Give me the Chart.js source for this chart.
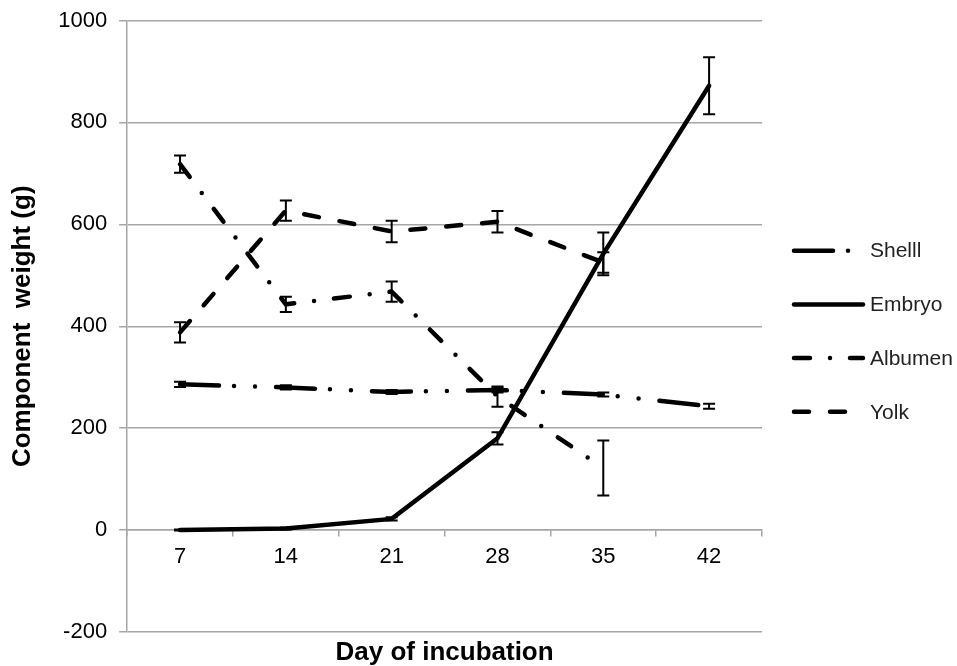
<!DOCTYPE html>
<html>
<head>
<meta charset="utf-8">
<script src="https://cdn.jsdelivr.net/npm/chart.js@4.4.0/dist/chart.umd.min.js"></script>
<style>
    html, body { margin: 0; padding: 0; background: #fff; }
    #wrap { width: 957px; height: 666px; }
</style>
</head>
<body>
<div id="wrap"><canvas id="chart"></canvas></div>
<script>
// values
const days = ['7', '14', '21', '28', '35', '42'];
const yTicks = [-200, 0, 200, 400, 600, 800, 1000];

const shell = [286, 280, 271, 275, 266, 243];
const shellErr = [5, 4, 4, 5, 4, 5];
const embryo = [0, 3, 22, 180, 542, 872];
const embryoErr = [1, 2, 3, 12, 42, 56];
const albumen = [718, 443, 468, 262, 122, null];
const albumenErr = [17, 15, 20, 20, 54, null];
const yolk = [388, 627, 586, 605, 525, null];
const yolkErr = [20, 20, 21, 21, 20, null];

const FONT = "'Liberation Sans', Arial, sans-serif";
const GRID = '#a6a6a6';

const errors = [shellErr, embryoErr, albumenErr, yolkErr];

// draws the +/- bars through the y scale
const errorBars = {
    id: 'errorBars',
    afterDatasetsDraw(chart) {
        const ctx = chart.ctx;
        const y = chart.scales.y;
        chart.data.datasets.forEach((ds, i) => {
            const meta = chart.getDatasetMeta(i);
            errors[i].forEach((e, j) => {
                if (e == null || ds.data[j] == null) return;
                const px = meta.data[j].x;
                const top = y.getPixelForValue(ds.data[j] + e);
                const bot = y.getPixelForValue(ds.data[j] - e);
                ctx.save();
                ctx.strokeStyle = '#000';
                ctx.lineWidth = 2;
                ctx.beginPath();
                ctx.moveTo(px, top); ctx.lineTo(px, bot);
                ctx.moveTo(px - 6, top); ctx.lineTo(px + 6, top);
                ctx.moveTo(px - 6, bot); ctx.lineTo(px + 6, bot);
                ctx.stroke();
                ctx.restore();
            });
        });
    }
};

// legend at the right, line samples use each dataset's dash
const sideLegend = {
    id: 'sideLegend',
    afterDraw(chart) {
        const ctx = chart.ctx;
        const area = chart.chartArea;
        const x0 = 792;
        const len = 73;
        const rowH = 53.7;
        const yMid = (area.top + area.bottom) / 2 + 5;
        chart.data.datasets.forEach((ds, i) => {
            const yy = yMid + (i - 1.5) * rowH;
            ctx.save();
            ctx.strokeStyle = '#000';
            ctx.lineWidth = ds.borderWidth;
            ctx.lineCap = 'round';
            ctx.setLineDash(ds.borderDash || []);
            ctx.beginPath();
            ctx.moveTo(x0 + 2, yy);
            ctx.lineTo(x0 + len - 2, yy);
            ctx.stroke();
            ctx.setLineDash([]);
            ctx.fillStyle = '#222';
            ctx.font = '21px ' + FONT;
            ctx.textBaseline = 'middle';
            ctx.fillText(ds.label, x0 + len + 5, yy + 1);
            ctx.restore();
        });
    }
};

const lineBase = {
    borderColor: '#000',
    backgroundColor: '#000',
    borderWidth: 4.5,
    borderCapStyle: 'round',
    pointRadius: 0,
    tension: 0,
    fill: false,
    spanGaps: false
};

new Chart(document.getElementById('chart').getContext('2d'), {
    type: 'line',
    data: {
        labels: days,
        datasets: [
            Object.assign({}, lineBase, { label: 'Shelll', data: shell, borderDash: [39, 15, 0, 21, 0, 21] }),
            Object.assign({}, lineBase, { label: 'Embryo', data: embryo, borderDash: [] }),
            Object.assign({}, lineBase, { label: 'Albumen', data: albumen, borderDash: [16, 20, 0, 20] }),
            Object.assign({}, lineBase, { label: 'Yolk', data: yolk, borderDash: [15, 21] })
        ]
    },
    options: {
        responsive: true,
        maintainAspectRatio: false,
        animation: false,
        layout: { padding: { left: 7, right: 195, top: 0, bottom: 0 } },
        plugins: {
            legend: { display: false },
            tooltip: { enabled: false }
        },
        scales: {
            x: {
                type: 'category',
                position: 'bottom',
                offset: true,
                grid: { display: false },
                border: { display: false },
                ticks: { display: false },
                title: {
                    display: true,
                    text: 'Day of incubation',
                    color: '#000',
                    font: { family: FONT, size: 26, weight: 'bold', lineHeight: 1.0 },
                    padding: { top: 0, bottom: 0 }
                }
            },
            x2: {
                type: 'category',
                position: { y: 0 },
                offset: true,
                grid: { drawOnChartArea: false, drawTicks: true, tickLength: 6, offset: true, color: GRID, lineWidth: 1.5 },
                border: { color: GRID, width: 1.5 },
                ticks: { color: '#000', padding: 8, font: { family: FONT, size: 22 } },
                afterFit(scale) { scale.height = 0; }
            },
            y: {
                min: yTicks[0],
                max: yTicks[yTicks.length - 1],
                afterBuildTicks(scale) { scale.ticks = yTicks.map(v => ({ value: v })); },
                afterFit(scale) { scale.paddingTop = 20.5; },
                grid: { color: GRID, lineWidth: 1.5, tickLength: 8 },
                border: { color: GRID, width: 1.5 },
                ticks: { color: '#000', padding: 12, font: { family: FONT, size: 22 }, callback: v => String(v) },
                title: {
                    display: true,
                    text: 'Component  weight (g)',
                    color: '#000',
                    font: { family: FONT, size: 26, weight: 'bold' },
                    padding: { top: 0, bottom: 8 }
                }
            }
        }
    },
    plugins: [errorBars, sideLegend]
});
</script>
</body>
</html>
